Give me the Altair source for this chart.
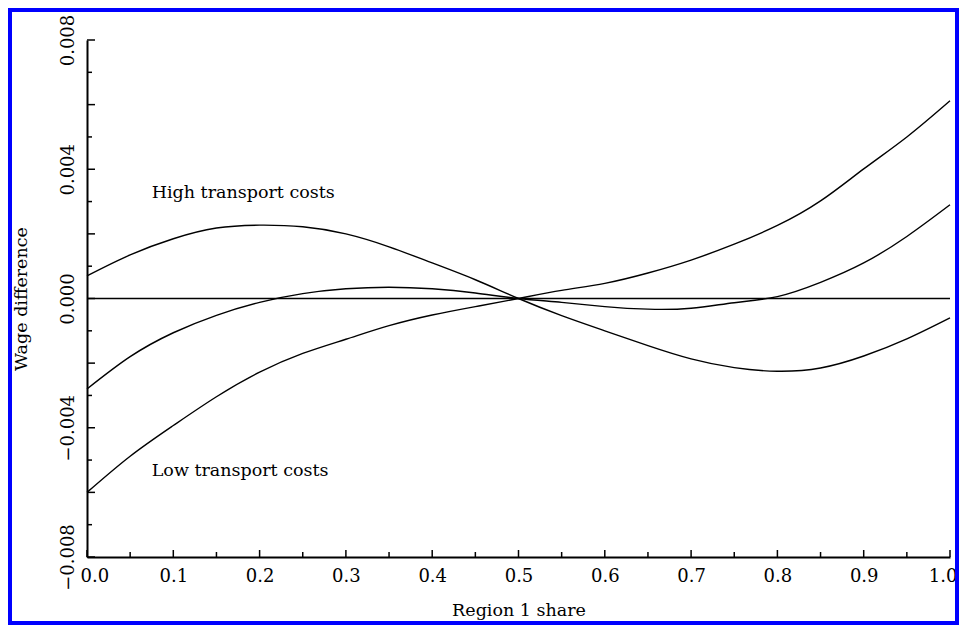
import altair as alt
import pandas as pd

# ---- data ----
share = [0.00, 0.05, 0.10, 0.15, 0.20, 0.25, 0.30, 0.35, 0.40, 0.45, 0.50,
         0.55, 0.60, 0.65, 0.70, 0.75, 0.80, 0.85, 0.90, 0.95, 1.00]
high_cost = [0.00070, 0.00135, 0.00185, 0.00218, 0.00227, 0.00222, 0.00200, 0.00160,
             0.00110, 0.00058, 0.00000, -0.00053, -0.00100, -0.00146, -0.00187,
             -0.00214, -0.00225, -0.00215, -0.00178, -0.00125, -0.00060]
mid_cost = [-0.00280, -0.00180, -0.00106, -0.00052, -0.00012, 0.00015, 0.00030, 0.00035,
            0.00030, 0.00017, 0.00000, -0.00012, -0.00025, -0.00033, -0.00030,
            -0.00013, 0.00006, 0.00050, 0.00110, 0.00192, 0.00290]
low_cost = [-0.00600, -0.00488, -0.00393, -0.00304, -0.00228, -0.00170, -0.00126, -0.00084,
            -0.00051, -0.00025, 0.00000, 0.00025, 0.00047, 0.00079, 0.00119,
            0.00168, 0.00226, 0.00302, 0.00401, 0.00500, 0.00612]

x_label_values = [0.0, 0.1, 0.2, 0.3, 0.4, 0.5, 0.6, 0.7, 0.8, 0.9, 1.0]
x_minor_ticks = [0.05, 0.15, 0.25, 0.35, 0.45, 0.55, 0.65, 0.75, 0.85, 0.95]
y_label_values = [-0.008, -0.004, 0.0, 0.004, 0.008]
y_major_ticks = [-0.008, -0.006, -0.004, -0.002, 0.0, 0.002, 0.004, 0.006, 0.008]
y_minor_ticks = [-0.007, -0.005, -0.003, -0.001, 0.001, 0.003, 0.005, 0.007]

ann_text = ["High transport costs", "Low transport costs"]
ann_x = [0.075, 0.075]
ann_y = [0.0031, -0.0055]

W, H = 863, 517
FONT = "DejaVu Serif"
X_TITLE = "Region 1 share"
Y_TITLE = "Wage difference"

rows = []
for name, vals in [("high", high_cost), ("mid", mid_cost), ("low", low_cost)]:
    for s, v in zip(share, vals):
        rows.append({"share": s, "value": v, "series": name})
df = pd.DataFrame(rows)

xscale = alt.Scale(domain=[0, 1], nice=False, zero=False)
yscale = alt.Scale(domain=[-0.008, 0.008], nice=False, zero=False)

x_axis = alt.Axis(values=x_label_values, format=".1f", ticks=False, grid=False,
                  domainColor="black", domainWidth=2, labelFont=FONT, labelFontSize=18,
                  labelColor="black", labelPadding=10, titleFont=FONT, titleFontSize=17.5,
                  titleFontWeight="normal", titleColor="black", titlePadding=16,
                  labelFlush=True, labelFlushOffset=7)
y_axis = alt.Axis(values=y_label_values, format=".3f", ticks=False, grid=False,
                  domainColor="black", domainWidth=2, labelFont=FONT, labelFontSize=18,
                  labelColor="black", labelAngle=270, labelAlign="center",
                  labelBaseline="alphabetic", labelPadding=14, titleFont=FONT,
                  titleFontSize=17.5, titleFontWeight="normal", titleColor="black",
                  titlePadding=29, labelFlush=False)


def X(field):
    return alt.X(field, scale=xscale, axis=x_axis, title=X_TITLE)


def Y(field):
    return alt.Y(field, scale=yscale, axis=y_axis, title=Y_TITLE)


lines = alt.Chart(df).mark_line(color="black", strokeWidth=1.4, interpolate="natural").encode(
    x=X("share:Q"), y=Y("value:Q"), detail="series:N",
)

zero = alt.Chart(pd.DataFrame({"z": [0.0]})).mark_rule(color="black", strokeWidth=1.4).encode(
    y=Y("z:Q")
)

xmaj = alt.Chart(pd.DataFrame({"v": x_label_values})).mark_rule(color="black", strokeWidth=1.5).encode(
    x=X("v:Q"), y=alt.value(H), y2=alt.value(H - 7)
)
xmin = alt.Chart(pd.DataFrame({"v": x_minor_ticks})).mark_rule(color="black", strokeWidth=1.5).encode(
    x=X("v:Q"), y=alt.value(H), y2=alt.value(H - 5)
)
ymaj = alt.Chart(pd.DataFrame({"v": y_major_ticks})).mark_rule(color="black", strokeWidth=1.5).encode(
    y=Y("v:Q"), x=alt.value(0), x2=alt.value(8)
)
ymin = alt.Chart(pd.DataFrame({"v": y_minor_ticks})).mark_rule(color="black", strokeWidth=1.5).encode(
    y=Y("v:Q"), x=alt.value(0), x2=alt.value(5)
)

ann = alt.Chart(pd.DataFrame({"x": ann_x, "y": ann_y, "t": ann_text})).mark_text(
    align="left", baseline="alphabetic", font=FONT, fontSize=17.5, color="black"
).encode(
    x=X("x:Q"), y=Y("y:Q"), text="t:N",
)

frame = alt.Chart(alt.Data(values=[{"f": 1}])).mark_rect(
    fillOpacity=0, stroke="#0000ff", strokeWidth=4
).encode(
    x=alt.value(-77), x2=alt.value(870), y=alt.value(-30), y2=alt.value(583)
)

chart = alt.layer(frame, lines, zero, xmaj, xmin, ymaj, ymin, ann).properties(
    width=W, height=H, background="white",
    autosize=alt.AutoSizeParams(type="none"),
    padding={"left": 79, "top": 32, "right": 9, "bottom": 68},
).configure_view(stroke=None)

chart.save("out.html", embed_options={"renderer": "svg", "actions": False})
